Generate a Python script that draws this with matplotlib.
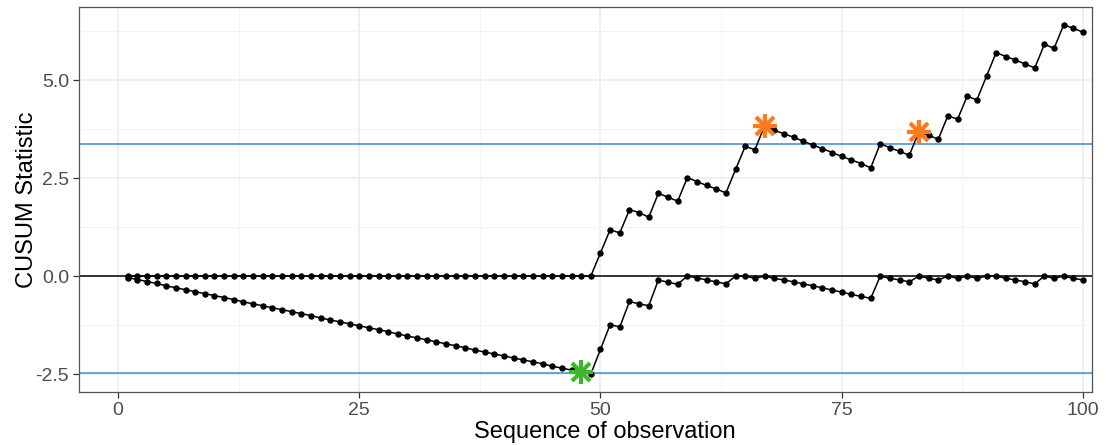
import numpy as np
import matplotlib
matplotlib.use("Agg")
import matplotlib.pyplot as plt

plt.rcParams['font.family'] = ['Liberation Sans', 'DejaVu Sans']

# observation index
obs = list(range(1, 101))

# upper CUSUM statistic
upper = [0.0] * 49 + [
    0.59, 1.18, 1.10, 1.69, 1.62, 1.50, 2.11, 2.01, 1.91, 2.51,
    2.41, 2.31, 2.22, 2.12, 2.72, 3.31, 3.22, 3.83, 3.72, 3.63,
    3.54, 3.44, 3.34, 3.25, 3.15, 3.05, 2.96, 2.87, 2.76, 3.38,
    3.27, 3.18, 3.08, 3.68, 3.59, 3.49, 4.09, 4.00, 4.59, 4.49,
    5.10, 5.70, 5.60, 5.51, 5.41, 5.31, 5.91, 5.81, 6.41, 6.32,
    6.22,
]

# lower CUSUM statistic
lower = [
    -0.04, -0.09, -0.14, -0.19, -0.25, -0.30, -0.35, -0.40, -0.45, -0.50,
    -0.55, -0.60, -0.66, -0.71, -0.76, -0.81, -0.86, -0.91, -0.96, -1.01,
    -1.07, -1.12, -1.17, -1.22, -1.27, -1.32, -1.37, -1.42, -1.48, -1.53,
    -1.58, -1.63, -1.68, -1.73, -1.78, -1.83, -1.89, -1.94, -1.99, -2.04,
    -2.09, -2.14, -2.19, -2.24, -2.30, -2.35, -2.40, -2.45, -2.50, -1.87,
    -1.24, -1.30, -0.65, -0.71, -0.76, -0.10, -0.16, -0.21, 0.00, -0.05,
    -0.10, -0.15, -0.20, 0.00, 0.00, -0.06, 0.00, -0.06, -0.10, -0.15,
    -0.20, -0.25, -0.30, -0.36, -0.41, -0.47, -0.52, -0.57, 0.00, -0.06,
    -0.10, -0.15, 0.00, -0.06, -0.10, 0.00, -0.06, 0.00, -0.06, 0.00,
    0.00, -0.06, -0.10, -0.15, -0.20, 0.00, -0.06, 0.00, -0.06, -0.10,
]

h_upper = 3.37
h_lower = -2.47

# signals: observations flagged on each side
upper_alarms = [67, 83]
lower_alarms = [48]

fig = plt.figure(figsize=(11.2, 4.45), dpi=100)
ax = fig.add_axes([0.0705, 0.119, 0.9045, 0.865])

ax.set_xlim(-4.04, 100.93)
ax.set_ylim(-2.96, 6.86)

# grid like theme_bw
ax.set_xticks([0, 25, 50, 75, 100])
ax.set_xticks([12.5, 37.5, 62.5, 87.5], minor=True)
ax.set_yticks([-2.5, 0.0, 2.5, 5.0])
ax.set_yticks([-1.25, 1.25, 3.75, 6.25], minor=True)
ax.set_yticklabels(["-2.5", "0.0", "2.5", "5.0"])
ax.grid(which='major', color='#EBEBEB', linewidth=1.1)
ax.grid(which='minor', color='#F3F3F3', linewidth=0.6)
ax.set_axisbelow(True)

ax.axhline(0, color='black', linewidth=1.1, zorder=2)
ax.axhline(h_upper, color='#3D8BDB', linewidth=1.1, zorder=2)
ax.axhline(h_lower, color='#3D8BDB', linewidth=1.1, zorder=2)

ax.plot(obs, upper, color='black', linewidth=1.1, marker='o', markersize=3.6, zorder=3)
ax.plot(obs, lower, color='black', linewidth=1.1, marker='o', markersize=3.6, zorder=3)

# asterisk = plus + cross
for idx in upper_alarms:
    for m in ['+', 'x']:
        ax.plot(obs[idx - 1], upper[idx - 1], marker=m, markersize=17 if m == '+' else 13,
                markeredgewidth=3, color='#FF7A1A', zorder=4)
for idx in lower_alarms:
    for m in ['+', 'x']:
        ax.plot(obs[idx - 1], lower[idx - 1], marker=m, markersize=17 if m == '+' else 13,
                markeredgewidth=3, color='#3DB82A', zorder=4)

for s in ax.spines.values():
    s.set_color('#555555')
    s.set_linewidth(0.9)
ax.tick_params(which='major', length=4, color='#333333', labelsize=14, labelcolor='#4D4D4D',
               width=0.9, pad=3)
ax.tick_params(which='minor', length=0)

ax.set_xlabel("Sequence of observation", fontsize=17)
ax.set_ylabel("CUSUM Statistic", fontsize=17)
ax.xaxis.set_label_coords(0.519, -0.074)
ax.yaxis.set_label_coords(-0.040, 0.5)

fig.savefig("out.png", dpi=100)
